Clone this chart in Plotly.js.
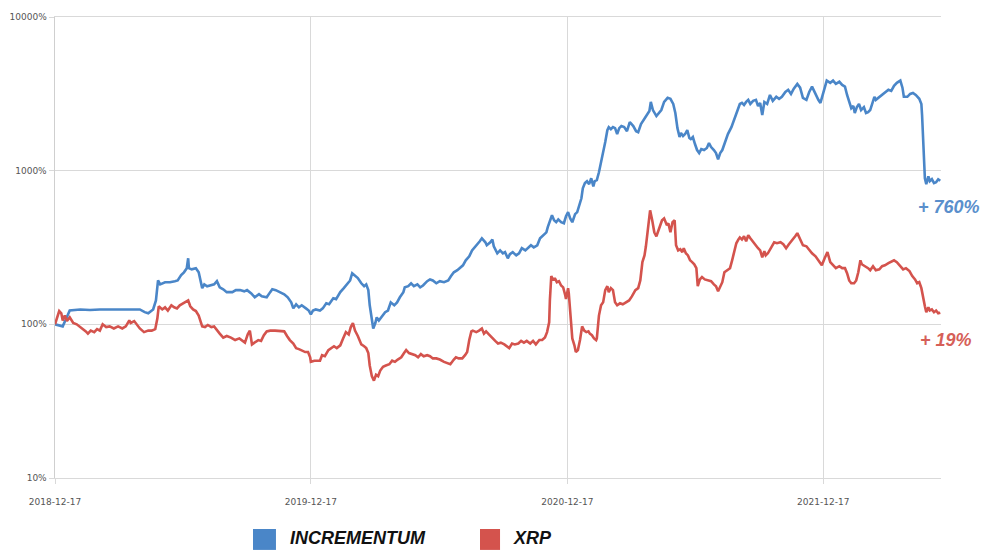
<!DOCTYPE html>
<html>
<head>
<meta charset="utf-8">
<script src="https://cdn.plot.ly/plotly-3.0.1.min.js"></script>
<style>
html,body{margin:0;padding:0;background:#fff;}
#chart{width:984px;height:550px;}
</style>
</head>
<body>
<div id="chart"></div>
<script>
// Start date of the comparison (all values = % of starting value)
const startDate = '2018-12-17';
const endDate = '2022-06-03';

// x tick dates and labels
const xTickDates = ['2018-12-17', '2019-12-17', '2020-12-17', '2021-12-17'];
const xTickLabels = ['2018-12-17', '2019-12-17', '2020-12-17', '2021-12-17'];

// y ticks (log scale, percent)
const yTickValues = [10, 100, 1000, 10000];
const yTickLabels = ['10%', '100%', '1000%', '10000%'];

// Series names
const seriesNames = ['INCREMENTUM', 'XRP'];
const endLabels = ['+ 760%', '+ 19%'];

// INCREMENTUM: days after start date, value in %
const incrementumDays = [
0,11,16,21,36,50,64,78,93,107,
121,128,133,140,144,147,150,157,164,171,
175,180,184,188,190,191,195,201,205,210,
213,217,221,227,231,235,240,245,253,258,
264,270,274,280,285,291,295,302,307,310,
315,321,327,332,337,340,344,348,352,358,
362,365,368,372,378,382,387,391,397,401,
407,412,417,421,424,428,432,437,441,444,
447,449,452,454,457,459,462,467,471,475,
479,484,488,492,497,499,504,508,512,517,
521,525,531,535,539,544,549,555,561,565,
569,574,578,582,586,591,595,599,604,606,
609,614,616,621,624,626,631,635,639,642,
646,649,653,658,662,666,671,675,679,683,
688,692,696,701,703,706,709,712,715,718,
722,726,729,732,735,738,742,745,748,751,
753,756,759,762,765,768,770,773,776,779,
782,785,788,790,793,796,799,802,805,808,
812,816,820,825,829,832,836,841,845,848,
850,853,858,861,865,869,874,878,882,885,
888,891,893,896,899,902,905,907,910,913,
916,919,922,926,930,933,936,940,943,946,
949,952,956,960,965,969,972,975,977,980,
983,986,989,992,996,1000,1003,1006,1009,1012,
1016,1020,1024,1029,1033,1037,1042,1046,1050,1054,
1059,1063,1067,1072,1076,1080,1085,1089,1092,1094,
1099,1101,1106,1110,1114,1119,1123,1127,1130,1133,
1136,1139,1141,1144,1147,1150,1154,1157,1160,1163,
1166,1169,1171,1176,1180,1184,1189,1193,1197,1201,
1206,1209,1211,1216,1220,1224,1228,1233,1236,1237,
1238,1240,1241,1243,1246,1248,1251,1254,1257,1260,1263
];
const incrementumPct = [
100,97,109,123,125,124,125,125,124,125,
125,120,118,125,143,193,182,188,188,191,
193,209,218,232,269,232,228,232,218,172,
182,177,179,182,191,174,169,162,162,167,
167,164,167,159,150,157,152,150,162,169,
167,162,157,150,139,127,135,129,133,127,
123,116,123,125,123,127,137,135,148,146,
162,172,182,193,215,206,200,185,177,182,
167,133,109,94,102,111,106,114,120,123,
139,133,139,150,162,174,177,185,177,182,
174,179,191,196,193,185,191,188,193,206,
218,225,232,242,261,277,303,317,337,347,
363,342,327,342,357,322,290,303,290,295,
269,286,295,281,290,313,303,313,327,317,
327,363,380,397,429,475,513,475,462,482,
462,455,505,537,489,462,521,537,596,661,
768,830,854,817,893,791,854,867,976,1120,
1321,1535,1834,1920,1862,1920,1891,1731,1891,1950,
1920,1807,2073,1950,1807,1780,2012,2170,2338,2443,
2801,2481,2266,2374,2481,2801,2979,2935,2717,2374,
1891,1655,1757,1681,1731,1834,1630,1605,1655,1490,
1362,1302,1383,1362,1404,1513,1425,1362,1302,1186,
1302,1362,1535,1731,1920,2170,2338,2592,2717,2759,
2676,2801,2890,2717,2845,2890,2634,2759,2302,2801,
2717,3110,2845,3025,2935,3025,3253,3359,3157,3413,
3668,3468,2979,2890,3253,3523,3110,2890,2759,2979,
3611,3855,3727,3855,3668,3787,3611,3523,3110,2759,
2550,2634,2374,2592,2717,2481,2592,2374,2406,2481,
2801,3025,2890,3025,3110,3205,3359,3306,3567,3727,
3855,3468,3025,3025,3157,3205,3110,2935,2717,2302,
1705,1168,893,817,920,854,880,830,842,880,860
];

// XRP: days after start date, value in %
const xrpDays = [
0,3,6,9,11,14,17,21,26,31,
36,40,44,47,51,56,60,64,68,73,
78,84,90,96,101,106,108,113,117,121,
127,133,138,143,146,148,153,157,161,166,
170,174,178,183,187,190,193,197,201,205,
210,214,218,223,227,231,235,240,245,251,
257,263,267,271,275,278,281,285,290,294,
298,302,307,314,321,327,331,335,340,344,
348,352,357,361,364,365,370,374,378,381,
385,390,394,398,402,407,411,415,419,422,
425,428,432,437,441,444,447,449,452,455,
458,461,464,468,472,477,481,485,489,494,
498,501,505,509,514,518,522,526,531,535,
539,544,549,555,559,564,569,572,576,581,
585,588,591,594,596,601,605,609,612,615,
619,624,628,632,636,641,645,648,652,656,
661,665,669,673,678,682,686,691,695,699,
702,705,706,708,711,713,716,719,722,725,
728,729,732,733,736,738,741,743,746,749,
752,755,758,761,763,766,769,772,773,776,
779,782,785,788,790,793,796,799,802,806,
810,815,819,823,828,832,835,838,841,843,
846,849,852,855,858,861,863,866,869,873,
875,878,881,884,886,889,892,895,897,900,
903,906,909,912,915,917,920,923,927,932,
936,940,943,946,949,952,955,959,963,966,
969,972,975,977,980,983,986,989,992,996,
1000,1003,1006,1009,1012,1014,1017,1022,1026,1030,
1035,1039,1043,1047,1052,1056,1059,1062,1064,1067,
1072,1076,1080,1085,1089,1094,1098,1102,1106,1110,
1114,1119,1123,1127,1130,1133,1136,1140,1143,1146,
1149,1151,1154,1160,1163,1167,1171,1176,1180,1184,
1189,1193,1197,1201,1206,1210,1214,1219,1223,1227,
1230,1233,1236,1238,1241,1243,1246,1248,1251,1254,
1257,1260,1263
];
const xrpPct = [
100,109,122,118,106,114,105,111,102,100,
96,94,90,87,91,89,93,91,100,96,
97,94,97,94,97,106,102,105,99,94,
89,91,91,93,109,131,125,129,123,133,
129,127,133,137,141,143,131,125,122,114,
97,96,99,96,97,91,87,82,84,82,
79,81,78,76,86,91,74,76,79,78,
85,90,91,91,91,90,84,79,75,70,
69,68,66,66,61,57,58,58,58,63,
62,68,70,72,70,73,81,89,86,96,
102,91,84,74,72,70,65,54,46,43,
47,46,50,53,54,55,58,57,59,61,
65,68,65,64,63,61,64,62,63,62,
60,60,59,57,56,55,59,61,60,60,
63,66,79,90,91,89,91,94,87,90,
86,81,78,75,76,74,72,70,75,74,
75,78,76,78,75,78,74,79,79,82,
89,103,143,206,193,200,188,191,179,174,
154,146,172,159,106,81,73,66,68,79,
97,91,89,90,87,85,81,79,81,114,
133,139,167,177,162,172,167,139,133,137,
135,139,143,152,167,172,193,254,281,322,
409,552,475,397,374,415,435,475,489,442,
455,397,462,475,327,303,308,295,313,290,
281,261,254,246,232,177,196,203,196,193,
191,182,177,164,174,188,218,225,232,261,
303,337,357,368,357,374,347,380,363,342,
327,313,303,273,299,281,290,322,342,337,
342,332,313,332,352,374,392,363,347,327,
322,303,290,277,261,242,269,295,254,242,
232,239,232,232,215,193,185,185,193,218,
261,246,242,232,225,239,225,228,239,242,
250,254,261,254,239,228,232,222,206,196,
185,188,172,152,131,120,129,123,125,120,
123,118,119
];

const colors = ['#4a86c8', '#d4534d'];
const labelColors = ['#5a8fcc', '#d65f58'];

function toDate(days) {
  const base = Date.UTC(2018, 11, 17);
  return days.map(d => new Date(base + d * 86400000).toISOString().slice(0, 10));
}

const traces = [
  {x: toDate(incrementumDays), y: incrementumPct, name: seriesNames[0]},
  {x: toDate(xrpDays), y: xrpPct, name: seriesNames[1]}
].map((t, i) => Object.assign(t, {
  type: 'scatter', mode: 'lines',
  line: {color: colors[i], width: 2.6, shape: 'linear'},
  showlegend: false, hoverinfo: 'x+y+name'
}));

const gridColor = '#d9d9d9';
const tickFont = {family: 'DejaVu Sans, sans-serif', size: 9, color: '#555'};

// Legend drawn in paper coordinates (plot area: x 55..941, y 17..478 px)
const legendFont = {family: 'Liberation Sans, Arial, sans-serif', size: 18, color: '#111'};

const layout = {
  width: 984, height: 550,
  margin: {l: 55, r: 43, t: 17, b: 72},
  paper_bgcolor: '#fff', plot_bgcolor: '#fff',
  xaxis: {
    type: 'date', range: [startDate, endDate],
    tickmode: 'array', tickvals: xTickDates, ticktext: xTickLabels,
    showgrid: true, gridcolor: gridColor, gridwidth: 1,
    showline: true, linecolor: gridColor, linewidth: 1, mirror: true,
    ticks: 'outside', ticklen: 5, tickcolor: gridColor,
    ticklabelstandoff: 10,
    tickfont: tickFont, zeroline: false, fixedrange: true
  },
  yaxis: {
    type: 'log', range: [1, 4],
    tickmode: 'array', tickvals: yTickValues, ticktext: yTickLabels,
    showgrid: true, gridcolor: gridColor, gridwidth: 1,
    showline: true, linecolor: '#cfcfcf', linewidth: 1.5,
    ticks: 'outside', ticklen: 5, tickcolor: gridColor,
    tickfont: tickFont, zeroline: false, fixedrange: true
  },
  shapes: [
    {type: 'rect', xref: 'paper', yref: 'paper', x0: 0.2235, x1: 0.2494, y0: -0.156, y1: -0.1106,
     fillcolor: colors[0], line: {width: 0}},
    {type: 'rect', xref: 'paper', yref: 'paper', x0: 0.4797, x1: 0.5023, y0: -0.156, y1: -0.1106,
     fillcolor: colors[1], line: {width: 0}}
  ],
  annotations: [
    {xref: 'paper', yref: 'paper', x: 0.263, y: -0.131, xanchor: 'left', yanchor: 'middle',
     text: '<b><i>' + seriesNames[0] + '</i></b>', showarrow: false, font: legendFont},
    {xref: 'paper', yref: 'paper', x: 0.515, y: -0.131, xanchor: 'left', yanchor: 'middle',
     text: '<b><i>' + seriesNames[1] + '</i></b>', showarrow: false, font: legendFont},
    {xref: 'paper', yref: 'paper', x: 0.972, y: 0.588, xanchor: 'left', yanchor: 'middle',
     text: '<b><i>' + endLabels[0] + '</i></b>', showarrow: false,
     font: {family: 'Liberation Sans, Arial, sans-serif', size: 18, color: labelColors[0]}},
    {xref: 'paper', yref: 'paper', x: 0.974, y: 0.299, xanchor: 'left', yanchor: 'middle',
     text: '<b><i>' + endLabels[1] + '</i></b>', showarrow: false,
     font: {family: 'Liberation Sans, Arial, sans-serif', size: 18, color: labelColors[1]}}
  ]
};

Plotly.newPlot('chart', traces, layout, {displayModeBar: false, staticPlot: true});
</script>
</body>
</html>
